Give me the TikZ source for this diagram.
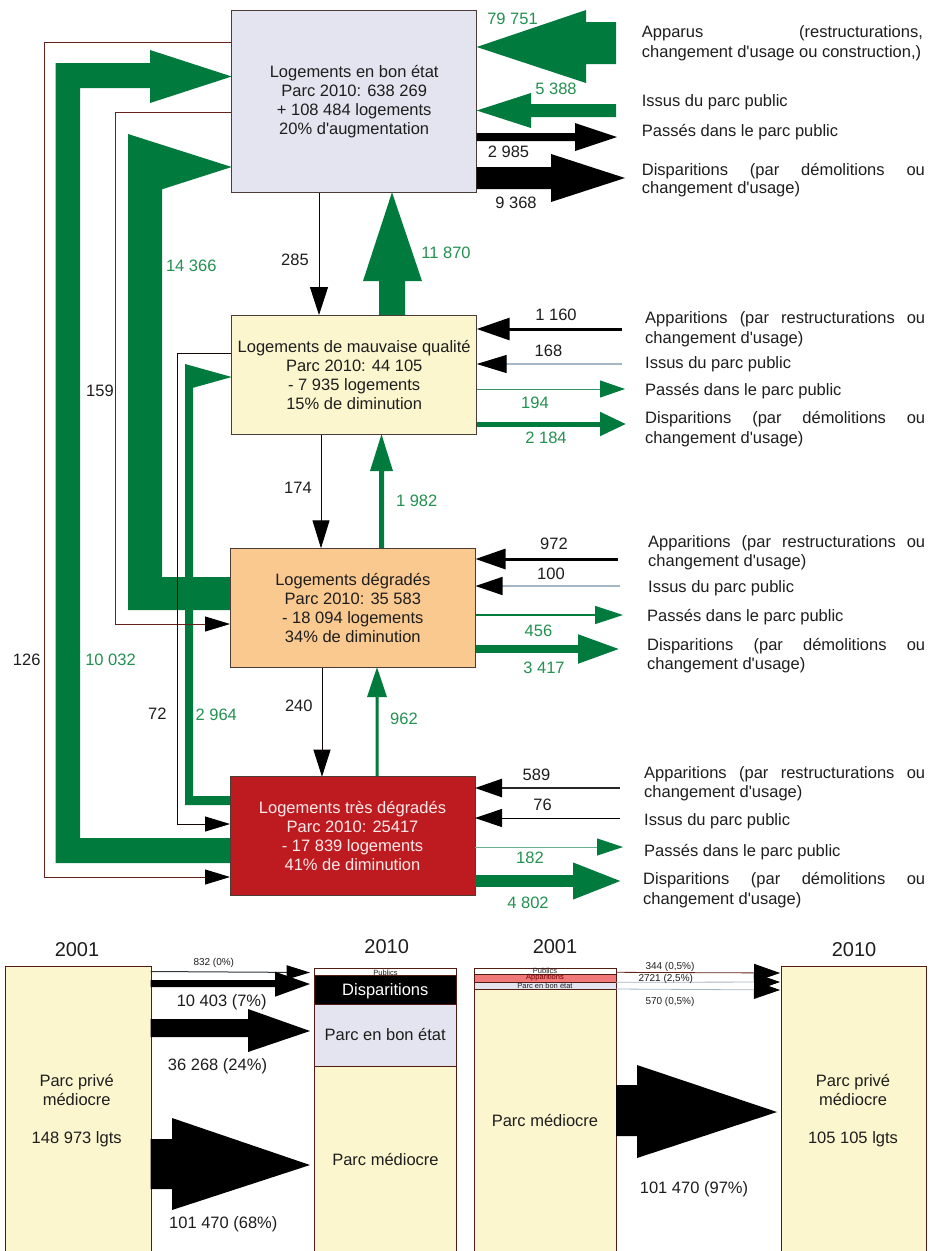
\documentclass[tikz,border=0pt]{standalone}
\usepackage{fontspec}
\setmainfont{Liberation Sans}[Ligatures=TeXOff]
\usetikzlibrary{arrows.meta}
\definecolor{gr}{RGB}{0,122,61}
\definecolor{gtxt}{RGB}{35,145,80}
\definecolor{lav}{RGB}{228,228,240}
\definecolor{yel}{RGB}{251,246,206}
\definecolor{ora}{RGB}{250,201,143}
\definecolor{redb}{RGB}{190,27,32}
\definecolor{edge}{RGB}{75,60,55}
\definecolor{brn}{RGB}{100,35,25}
\definecolor{pale}{RGB}{165,182,196}
\definecolor{salm}{RGB}{240,120,120}
\definecolor{txt}{RGB}{30,30,30}
\newcommand\fsA{\fontsize{16.5}{19}\selectfont}
\newcommand\fsY{\fontsize{20}{22}\selectfont}
\newcommand\fsS{\fontsize{10}{10}\selectfont}
\newcommand\fsT{\fontsize{7.5}{7.5}\selectfont}
\newcommand\jl[2]{\makebox[#1pt][s]{#2}}
\begin{document}
\begin{tikzpicture}[x=1pt,y=-1pt,
  box/.style={draw=edge,line width=1pt,inner sep=0pt,align=center,font=\fsA,text=txt},
  lbl/.style={anchor=base,inner sep=0pt,font=\fsA,text=txt},
  glbl/.style={lbl,text=gtxt},
  rtxt/.style={anchor=base west,inner sep=0pt,font=\fsA,text=txt},
  slbl/.style={anchor=base,inner sep=0pt,font=\fsS,text=txt},
  tlbl/.style={anchor=center,inner sep=0pt,font=\fsT,text=txt},
  flow/.style={draw=brn,line width=0.9pt},
  vflow/.style={draw=black!85!brn,line width=0.9pt},
  bar/.style={draw=brn!80!black,line width=0.8pt},
]
\useasboundingbox (0,0) rectangle (930,1251);
\clip (0,0) rectangle (930,1251);
\fill[white] (0,0) rectangle (930,1251);

% ---------- left-side green flows ----------
% 10 032 : very degraded -> good
\fill[gr] (230,863) -- (55.7,863) -- (55.7,63) -- (150,63) -- (150,50) -- (231.7,76.5) -- (150,103) -- (150,88) -- (80,88) -- (80,838) -- (230,838) -- cycle;
% 14 366 : degraded -> good
\fill[gr] (230,610) -- (128,610) -- (128,134) -- (231.7,167) -- (162,189.3) -- (162,577) -- (230,577) -- cycle;
% 2 964 : very degraded -> poor quality
\fill[gr] (230,805) -- (185,805) -- (185,364) -- (231.7,377) -- (193,387.8) -- (193,796) -- (230,796) -- cycle;

% ---------- thin flows on the left ----------
\draw[flow,-{Triangle[length=25pt,width=15pt,color=black]}] (231.7,42.7) -- (44.3,42.7) -- (44.3,877) -- (230,877);
\draw[flow,-{Triangle[length=25pt,width=15pt,color=black]}] (231.7,112.7) -- (115.7,112.7) -- (115.7,624) -- (230,624);
\draw[flow,draw=black!80!brn,-{Triangle[length=25pt,width=15pt,color=black]}] (231.7,353) -- (177,353) -- (177,824) -- (230,824);

% ---------- central vertical flows ----------
\draw[vflow,-{Triangle[length=28pt,width=18pt,color=black]}] (319,192.3) -- (319,315);
\fill[gr] (379,315) -- (379,281) -- (363,281) -- (392,192.3) -- (422,281) -- (405,281) -- (405,315) -- cycle;
\draw[vflow,-{Triangle[length=28pt,width=17pt,color=black]}] (321,434.3) -- (321,548.3);
\fill[gr] (379,548.3) -- (379,471) -- (370,471) -- (381.5,434.3) -- (393,471) -- (384,471) -- (384,548.3) -- cycle;
\draw[vflow,-{Triangle[length=27pt,width=17pt,color=black]}] (322,667.3) -- (322,776.7);
\fill[gr] (375.5,776.7) -- (375.5,697) -- (367,697) -- (377,667.3) -- (387,697) -- (378.5,697) -- (378.5,776.7) -- cycle;

% ---------- boxes ----------
\node[box,fill=lav,minimum width=245pt,minimum height=181.6pt] (b1) at (354.2,101.5)
  {Logements en bon état\\Parc 2010: 638 269\\+ 108 484 logements\\20\% d'augmentation};
\node[box,fill=yel,minimum width=245pt,minimum height=119.3pt] (b2) at (354.2,374.7)
  {Logements de mauvaise qualité\\Parc 2010: 44 105\\- 7 935 logements\\15\% de diminution};
\node[box,fill=ora,minimum width=245.5pt,minimum height=119pt] (b3) at (352.8,607.8)
  {Logements dégradés\\Parc 2010: 35 583\\- 18 094 logements\\34\% de diminution};
\node[box,fill=redb,text=white!92!red,minimum width=245pt,minimum height=118.3pt] (b4) at (352.5,835.9)
  {Logements très dégradés\\Parc 2010: 25417\\- 17 839 logements\\41\% de diminution};

% ---------- right side of box 1 ----------
\fill[gr] (616,22) -- (586,22) -- (586,10) -- (476.7,47) -- (586,83) -- (586,64) -- (616,64) -- cycle;
\fill[gr] (616,104) -- (531,104) -- (531,93) -- (476.7,110.5) -- (531,128) -- (531,117) -- (616,117) -- cycle;
\fill[black] (476.7,133) -- (575,133) -- (575,123) -- (617,137) -- (575,151) -- (575,141) -- (476.7,141) -- cycle;
\fill[black] (476.7,167) -- (551,167) -- (551,154) -- (625,178) -- (551,202) -- (551,189) -- (476.7,189) -- cycle;

% ---------- right side of box 2 ----------
\draw[black,line width=3pt,-{Triangle[length=33pt,width=22pt]}] (622,329) -- (476.7,329);
\draw[pale,line width=1.2pt,-{Triangle[length=30pt,width=18pt,color=black]}] (622,364) -- (476.7,364);
\draw[gr!80,line width=1pt,-{Triangle[length=25pt,width=17pt,color=gr]}] (476.7,389) -- (625,389);
\draw[gr,line width=5pt,-{Triangle[length=26pt,width=23pt]}] (476.7,424) -- (626,424);

% ---------- right side of box 3 ----------
\draw[black,line width=3pt,-{Triangle[length=30pt,width=20pt]}] (618,559) -- (475.5,559);
\draw[pale,line width=1.5pt,-{Triangle[length=27pt,width=18pt,color=black]}] (620,586) -- (475.5,586);
\draw[gr,line width=1.5pt,-{Triangle[length=28pt,width=18pt]}] (475.5,615) -- (623,615);
\draw[gr,line width=8pt,-{Triangle[length=42pt,width=27pt]}] (475.5,649) -- (620,649);

% ---------- right side of box 4 ----------
\draw[black!85,line width=2.5pt,-{Triangle[length=27pt,width=18pt,color=black]}] (620,788) -- (475,788);
\draw[black,line width=1pt,-{Triangle[length=27pt,width=18pt]}] (620,818) -- (475,818);
\draw[gr!60,line width=1pt,-{Triangle[length=26pt,width=17pt,color=gr]}] (475,847) -- (623,847);
\draw[gr,line width=12pt,-{Triangle[length=50pt,width=33pt]}] (475,881) -- (623,881);

% ---------- flow labels ----------
\node[glbl] (l1) at (512.5,24.3) {79 751};
\node[glbl] (l2) at (556,94.3) {5 388};
\node[lbl] (l3) at (508.5,157.7) {2 985};
\node[lbl] (l4) at (516,208.3) {9 368};
\node[lbl] (l5) at (295,265) {285};
\node[glbl] (l6) at (446,258.3) {11 870};
\node[glbl] (l7) at (191.3,271.7) {14 366};
\node[lbl] (l8) at (100,396) {159};
\node[lbl] (l9) at (298,493.3) {174};
\node[glbl] (l10) at (416.7,506.7) {1 982};
\node[lbl] (l11) at (26.7,665.7) {126};
\node[glbl] (l12) at (110.5,665.7) {10 032};
\node[lbl] (l13) at (157.3,719) {72};
\node[glbl] (l14) at (216.3,720) {2 964};
\node[lbl] (l15) at (298.8,711) {240};
\node[glbl] (l16) at (404,724) {962};
\node[lbl] (l17) at (556,320) {1 160};
\node[lbl] (l18) at (548.5,356.7) {168};
\node[glbl] (l19) at (535,408) {194};
\node[glbl] (l20) at (546,443) {2 184};
\node[lbl] (l21) at (554,549) {972};
\node[lbl] (l22) at (551,579) {100};
\node[glbl] (l23) at (538.5,636) {456};
\node[glbl] (l24) at (544,673) {3 417};
\node[lbl] (l25) at (536.5,780) {589};
\node[lbl] (l26) at (542.5,810.7) {76};
\node[glbl] (l27) at (530,863.3) {182};
\node[glbl] (l28) at (528,908) {4 802};

% ---------- right-hand legends ----------
\node[rtxt] (t1a) at (641.7,37) {\jl{281}{Apparus (restructurations,}};
\node[rtxt] (t1b) at (641.7,57.3) {changement d'usage ou construction,)};
\node[rtxt] (t1c) at (641.7,106) {Issus du parc public};
\node[rtxt] (t1d) at (641.7,136.7) {Passés dans le parc public};
\node[rtxt] (t1e) at (641.7,175) {\jl{283}{Disparitions (par démolitions ou}};
\node[rtxt] (t1f) at (641.7,193.5) {changement d'usage)};

\node[rtxt] (t2a) at (645,323.3) {\jl{280}{Apparitions (par restructurations ou}};
\node[rtxt] (t2b) at (645,343.3) {changement d'usage)};
\node[rtxt] (t2c) at (645,368.3) {Issus du parc public};
\node[rtxt] (t2d) at (645,395) {Passés dans le parc public};
\node[rtxt] (t2e) at (645,423.3) {\jl{280}{Disparitions (par démolitions ou}};
\node[rtxt] (t2f) at (645,443.3) {changement d'usage)};

\node[rtxt] (t3a) at (648,547.3) {\jl{277}{Apparitions (par restructurations ou}};
\node[rtxt] (t3b) at (648,566.7) {changement d'usage)};
\node[rtxt] (t3c) at (648,592.7) {Issus du parc public};
\node[rtxt] (t3d) at (647,621.7) {Passés dans le parc public};
\node[rtxt] (t3e) at (647,650) {\jl{278}{Disparitions (par démolitions ou}};
\node[rtxt] (t3f) at (647,669.3) {changement d'usage)};

\node[rtxt] (t4a) at (644,778.3) {\jl{281}{Apparitions (par restructurations ou}};
\node[rtxt] (t4b) at (644,797.7) {changement d'usage)};
\node[rtxt] (t4c) at (644,825) {Issus du parc public};
\node[rtxt] (t4d) at (644,856) {Passés dans le parc public};
\node[rtxt] (t4e) at (643,884.3) {\jl{282}{Disparitions (par démolitions ou}};
\node[rtxt] (t4f) at (643,904) {changement d'usage)};

% ================= bottom: first comparison =================
\node[lbl,font=\fsY] (y1) at (77,956.7) {2001};
\node[lbl,font=\fsY] (y2) at (386.7,953.3) {2010};
\node[bar,fill=yel,anchor=north west,minimum width=145.7pt,minimum height=300pt,inner sep=0pt] (p1) at (5,966) {};
\node[lbl] (p1a) at (76.7,1086.7) {Parc privé};
\node[lbl] (p1b) at (76.7,1105) {médiocre};
\node[lbl] (p1c) at (76.7,1143.3) {148 973 lgts};

\node[bar,fill=yel,anchor=north west,minimum width=142pt,minimum height=200pt,inner sep=0pt] (q1) at (314,1066) {};
\node[bar,fill=lav,anchor=north west,minimum width=142pt,minimum height=62pt,inner sep=0pt] (q2) at (314,1004) {};
\node[bar,fill=white,anchor=north west,minimum width=142pt,minimum height=7pt,inner sep=0pt] (q4) at (314,968) {};
\node[tlbl] (q4t) at (385.5,972.5) {Publics};
\node[bar,fill=black,anchor=north west,minimum width=142pt,minimum height=29pt,inner sep=0pt] (q3) at (314,975) {};
\node[lbl,text=white] (q3t) at (385.3,995) {Disparitions};
\node[lbl] (q2t) at (385.2,1040.7) {Parc en bon état};
\node[lbl] (q1t) at (385.5,1165) {Parc médiocre};

\draw[draw=black!70!pale,line width=1pt,-{Triangle[length=23.3pt,width=14pt,color=black]}] (150.7,971.5) -- (310,972.5);
\fill[black] (150.7,980) -- (275,980) -- (275,971.7) -- (310,984) -- (275,996.7) -- (275,987) -- (150.7,987) -- cycle;
\fill[black] (150.7,1019) -- (248,1019) -- (248,1009) -- (310,1031) -- (248,1052) -- (248,1037) -- (150.7,1037) -- cycle;
\fill[black] (150.7,1139) -- (172,1139) -- (172,1118) -- (310,1165) -- (172,1210) -- (172,1189) -- (150.7,1189) -- cycle;
\node[slbl] (a1) at (213.8,965) {832 (0\%)};
\node[lbl] (a2) at (221.7,1006.7) {10 403 (7\%)};
\node[lbl] (a3) at (217.5,1070) {36 268 (24\%)};
\node[lbl] (a4) at (223.3,1228.3) {101 470 (68\%)};

% ================= bottom: second comparison =================
\node[lbl,font=\fsY] (y3) at (555,953.3) {2001};
\node[lbl,font=\fsY] (y4) at (854,956.7) {2010};
\node[bar,fill=yel,anchor=north west,minimum width=142pt,minimum height=280pt,inner sep=0pt] (r1) at (474,989) {};
\node[bar,fill=lav,anchor=north west,minimum width=142pt,minimum height=7pt,inner sep=0pt] (r2) at (474,982) {};
\node[bar,fill=salm,anchor=north west,minimum width=142pt,minimum height=8pt,inner sep=0pt] (r3) at (474,974) {};
\node[bar,fill=white,anchor=north west,minimum width=142pt,minimum height=6pt,inner sep=0pt] (r4) at (474,968) {};
\node[tlbl] (r4t) at (545,971) {Publics};
\node[tlbl,text=red!45!black] (r3t) at (545,978) {Apparitions};
\node[tlbl] (r2t) at (545,986) {Parc en bon état};
\node[lbl] (r1t) at (545,1126.7) {Parc médiocre};

\node[bar,fill=yel,anchor=north west,minimum width=145pt,minimum height=300pt,inner sep=0pt] (s1) at (781,966) {};
\node[lbl] (s1a) at (853,1086.7) {Parc privé};
\node[lbl] (s1b) at (853,1105) {médiocre};
\node[lbl] (s1c) at (853,1143.3) {105 105 lgts};

\draw[brn,line width=0.8pt,-{Triangle[length=26pt,width=18pt,color=black]}] (616,972.3) -- (780,973);
\draw[pale,line width=0.8pt,-{Triangle[length=26pt,width=18pt,color=black]}] (616,982.3) -- (780,982);
\draw[pale,line width=0.8pt,-{Triangle[length=26pt,width=18pt,color=black]}] (616,989) -- (780,990);
\fill[black] (616,1085) -- (637,1085) -- (637,1065) -- (777,1112) -- (637,1158) -- (637,1136) -- (616,1136) -- cycle;
\node[slbl] (c1) at (670,969.3) {344 (0,5\%)};
\node[slbl] (c2) at (665.8,981) {2721 (2,5\%)};
\node[slbl] (c3) at (670,1004.3) {570 (0,5\%)};
\node[lbl] (c4) at (694,1193.3) {101 470 (97\%)};
\end{tikzpicture}
\end{document}
